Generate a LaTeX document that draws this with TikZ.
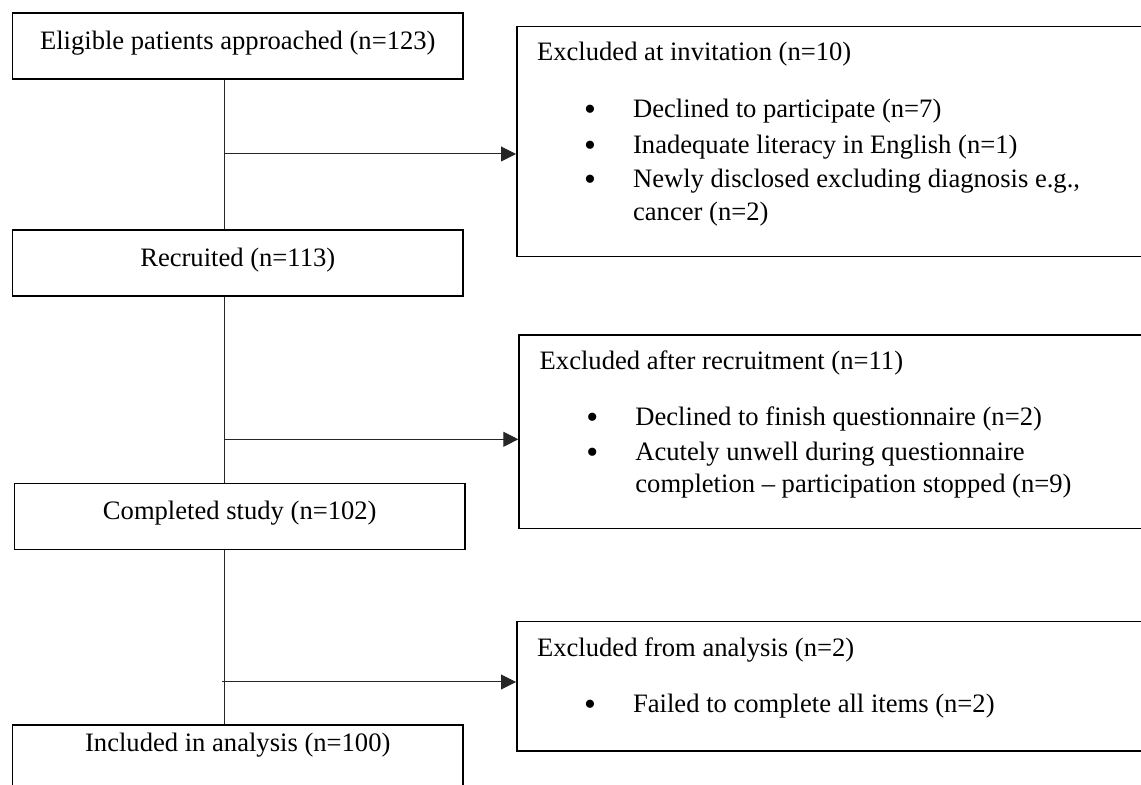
\documentclass[tikz,border=0pt]{standalone}
\usepackage{fontspec}
\setmainfont{Liberation Serif}
\usetikzlibrary{arrows.meta}
\begin{document}
\begin{tikzpicture}[x=0.5pt,y=-0.5pt,
  font=\fontsize{13.3}{16}\selectfont,
  box/.style={draw=black, line width=0.75pt, inner sep=0pt, anchor=north west,
    minimum width=225.3pt, minimum height=33pt, text height=18pt, text depth=15pt},
  xbox/.style={draw=black, line width=0.75pt, inner sep=0pt, anchor=north west},
  conn/.style={draw=black!85, line width=0.5pt},
  arr/.style={conn, -{Triangle[length=7.5pt,width=7.5pt]}},
  txt/.style={anchor=base west, inner sep=0pt},
  bul/.style={anchor=base, inner sep=0pt, yshift=-1.5pt, font=\fontsize{17}{17}\selectfont},
]
\clip (0,0) rectangle (1141,785);
% left column
\node[box] (elig) at (11.7,12.3) {Eligible patients approached (n=123)};
\node[box] (recr) at (11.7,229.3) {Recruited (n=113)};
\node[box] (comp) at (13.7,482.7) {Completed study (n=102)};
\node[box, minimum height=40pt, text height=13pt, text depth=27pt] (incl) at (11.7,724.3) {Included in analysis (n=100)};
% right column boxes
\node[xbox, minimum width=322pt, minimum height=115.15pt] (exinv) at (516,25.7) {};
\node[xbox, minimum width=321pt, minimum height=96.85pt] (exrec) at (518.3,334.3) {};
\node[xbox, minimum width=322pt, minimum height=64.8pt] (exana) at (516,620.7) {};
% texts box 2
\node[txt] (exinvT) at (536.7,61) {Excluded at invitation (n=10)};
\node[bul] (exinvB1) at (590,117.7) {•};
\node[txt] (exinvI1) at (632.7,117.7) {Declined to participate (n=7)};
\node[bul] (exinvB2) at (590,153.3) {•};
\node[txt] (exinvI2) at (632.7,153.3) {Inadequate literacy in English (n=1)};
\node[bul] (exinvB3) at (590,187.3) {•};
\node[txt] (exinvI3) at (632.7,187.3) {Newly disclosed excluding diagnosis e.g.,};
\node[txt] (exinvI3b) at (632.7,220.7) {cancer (n=2)};
% texts box 3
\node[txt] (exrecT) at (539.3,369.3) {Excluded after recruitment (n=11)};
\node[bul] (exrecB1) at (592.3,425.3) {•};
\node[txt] (exrecI1) at (635,425.3) {Declined to finish questionnaire (n=2)};
\node[bul] (exrecB2) at (592.3,460.3) {•};
\node[txt] (exrecI2) at (635,460.3) {Acutely unwell during questionnaire};
\node[txt] (exrecI2b) at (635,492.7) {completion – participation stopped (n=9)};
% texts box 4
\node[txt] (exanaT) at (536.7,656.3) {Excluded from analysis (n=2)};
\node[bul] (exanaB1) at (590,712.7) {•};
\node[txt] (exanaI1) at (632.7,712.7) {Failed to complete all items (n=2)};
% connectors
\coordinate (spine) at (224,0);
\draw[conn] (spine |- elig.south) -- (spine |- recr.north);
\draw[conn] (spine |- recr.south) -- (spine |- comp.north);
\draw[conn] (spine |- comp.south) -- (spine |- incl.north);
\coordinate (j1) at (224,154);
\coordinate (j2) at (224,439.3);
\coordinate (j3) at (222.3,682);
\draw[arr] (j1) -- (j1 -| exinv.west);
\draw[arr] (j2) -- (j2 -| exrec.west);
\draw[arr] (j3) -- (j3 -| exana.west);
\end{tikzpicture}
\end{document}
